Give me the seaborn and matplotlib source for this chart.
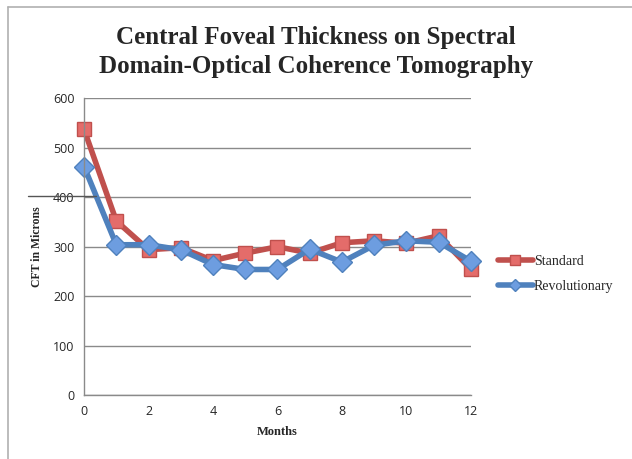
import numpy as np
import pandas as pd
import matplotlib
matplotlib.use('Agg')
import matplotlib.pyplot as plt
import seaborn as sns
from matplotlib.lines import Line2D

months = list(range(13))
standard = [537, 352, 294, 298, 272, 287, 300, 287, 308, 312, 307, 322, 255]
revolutionary = [462, 304, 304, 294, 264, 254, 254, 295, 269, 303, 312, 309, 271]

df = pd.DataFrame({'Months': months * 2,
                   'CFT': standard + revolutionary,
                   'group': ['Standard'] * 13 + ['Revolutionary'] * 13})

sns.set_style('white')
serif = ['Liberation Serif', 'DejaVu Serif']
sans = ['Open Sans', 'DejaVu Sans']

fig = plt.figure(figsize=(6.32, 4.59), dpi=100)
ax = fig.add_axes([0.133, 0.139, 0.612, 0.647])

red = '#c0504d'
blue = '#4f81bd'
sns.lineplot(data=df, x='Months', y='CFT', hue='group', style='group',
             palette={'Standard': red, 'Revolutionary': blue},
             markers={'Standard': 's', 'Revolutionary': 'D'},
             dashes=False, linewidth=4, markersize=10, ax=ax, legend=False)
for ln, fc in zip(ax.lines, ['#e46c6a', '#6d9de0']):
    ln.set_markerfacecolor(fc)
    ln.set_markeredgecolor(ln.get_color())
    ln.set_markeredgewidth(1)
    ln.set_clip_on(False)

ax.set_xlim(0, 12)
ax.set_ylim(0, 600)
ax.set_xticks(range(0, 13, 2))
ax.set_yticks(range(0, 601, 100))
ax.grid(axis='y', color='#8a8a8a', linewidth=1)
ax.set_axisbelow(True)
for s in ['top', 'right']:
    ax.spines[s].set_visible(False)
for s in ['left', 'bottom']:
    ax.spines[s].set_color('#8a8a8a')
    ax.spines[s].set_linewidth(1)
ax.tick_params(axis='both', length=4, color='#8a8a8a', labelsize=9, pad=3)
for t in ax.get_xticklabels() + ax.get_yticklabels():
    t.set_family(sans)
ax.set_xlabel('Months', family=serif, fontweight='bold', fontsize=9, labelpad=6)
ax.set_ylabel('CFT in Microns', family=serif, fontweight='bold', fontsize=8.5, labelpad=7)

fig.text(0.5, 0.887, 'Central Foveal Thickness on Spectral\nDomain-Optical Coherence Tomography',
         ha='center', va='center', family=serif, fontweight='bold', fontsize=18,
         linespacing=1.3)

handles = [Line2D([], [], color=red, lw=4, marker='s', markersize=7,
                  markerfacecolor='#e46c6a', markeredgecolor=red),
           Line2D([], [], color=blue, lw=4, marker='D', markersize=6,
                  markerfacecolor='#6d9de0', markeredgecolor=blue)]
fig.legend(handles, ['Standard', 'Revolutionary'], loc='center left',
           bbox_to_anchor=(0.768, 0.403), frameon=False, handlelength=2.5,
           handletextpad=0.1, labelspacing=0.9, prop={'family': serif, 'size': 10})

# chart frame and stray line
fig.add_artist(Line2D([8 / 632, 8 / 632], [0, 1 - 7 / 459], color='#b0b0b0', lw=1.2))
fig.add_artist(Line2D([8 / 632, 1], [1 - 7 / 459, 1 - 7 / 459], color='#b0b0b0', lw=1.2))
fig.add_artist(Line2D([28 / 632, 96 / 632], [1 - 196 / 459, 1 - 196 / 459], color='#555555', lw=1))

fig.savefig('out.png', dpi=100)
